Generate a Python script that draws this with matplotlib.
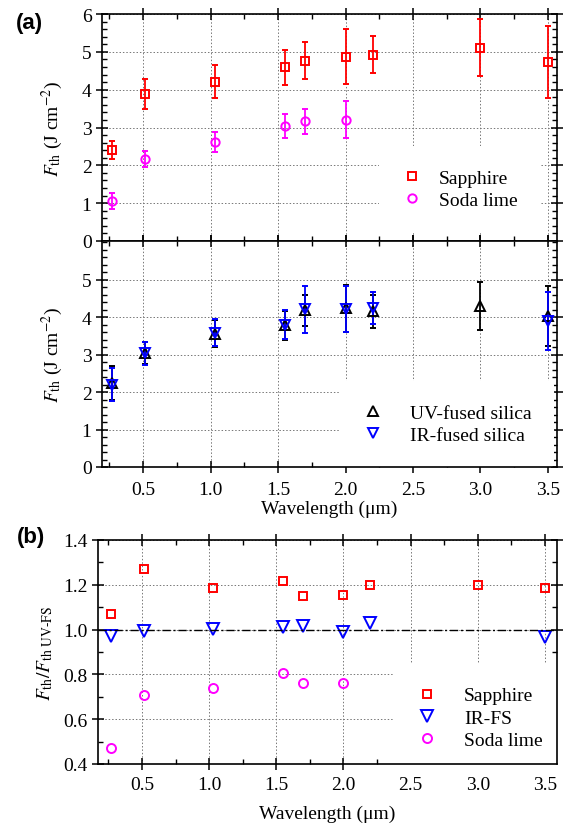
import matplotlib
matplotlib.use("Agg")
import matplotlib.pyplot as plt
from matplotlib.lines import Line2D
from matplotlib.ticker import MultipleLocator, AutoMinorLocator

plt.rcParams['font.family'] = ['Liberation Serif', 'DejaVu Serif']
plt.rcParams['mathtext.fontset'] = 'stix'

# ---------------- data ----------------
wl_sap = [0.27, 0.515, 1.03, 1.55, 1.70, 2.00, 2.20, 3.00, 3.50]
f_sap = [2.40, 3.88, 4.21, 4.59, 4.77, 4.87, 4.92, 5.11, 4.73]
e_sap = [0.24, 0.39, 0.43, 0.46, 0.48, 0.73, 0.49, 0.76, 0.96]

wl_soda = [0.27, 0.515, 1.03, 1.55, 1.70, 2.00]
f_soda = [1.06, 2.16, 2.62, 3.04, 3.16, 3.21]
e_soda = [0.21, 0.21, 0.27, 0.31, 0.32, 0.49]

wl_uv = [0.27, 0.515, 1.03, 1.55, 1.70, 2.00, 2.20, 3.00, 3.50]
f_uv = [2.25, 3.04, 3.56, 3.78, 4.18, 4.23, 4.15, 4.29, 4.02]
e_uv = [0.45, 0.30, 0.36, 0.39, 0.42, 0.63, 0.43, 0.64, 0.80]

wl_ir = [0.27, 0.515, 1.03, 1.55, 1.70, 2.00, 2.20, 3.50]
f_ir = [2.19, 3.03, 3.58, 3.80, 4.21, 4.21, 4.24, 3.89]
e_ir = [0.44, 0.30, 0.36, 0.38, 0.63, 0.62, 0.42, 0.78]

r_sap = [1.069, 1.271, 1.185, 1.219, 1.149, 1.154, 1.197, 1.200, 1.185]
r_ir = [0.973, 0.992, 1.002, 1.010, 1.016, 0.990, 1.031, 0.968]
r_soda = [0.471, 0.707, 0.738, 0.808, 0.761, 0.763]

xticks = [0.5, 1.0, 1.5, 2.0, 2.5, 3.0, 3.5]

RED = '#ff0000'
MAG = '#ff00ff'
BLUE = '#0000ff'
BLK = '#000000'

fig = plt.figure(figsize=(5.69, 8.29), dpi=100)
W, H = 569.0, 829.0

def pos(l, t, r, b):
    return [l / W, 1 - b / H, (r - l) / W, (b - t) / H]

ax1 = fig.add_axes(pos(102, 15, 557, 242))
ax2 = fig.add_axes(pos(102, 242, 557, 468))
ax3 = fig.add_axes(pos(98, 541, 557, 765))

def style(ax, ymajor, yminor_n):
    ax.tick_params(which='both', top=True, right=True, labelsize=14)
    ax.tick_params(which='major', direction='inout', length=8, width=1.1)
    ax.tick_params(which='minor', direction='in', length=3.5, width=1.0)
    ax.xaxis.set_minor_locator(MultipleLocator(0.25))
    ax.yaxis.set_major_locator(MultipleLocator(ymajor))
    ax.yaxis.set_minor_locator(AutoMinorLocator(yminor_n))
    for s in ax.spines.values():
        s.set_linewidth(1.2)
    ax.grid(True, which='major', linestyle=(0, (1.5, 2)), color='#777777',
            linewidth=0.7)
    ax.set_axisbelow(True)

mk = dict(mfc='none', mew=1.4, capsize=2.5, elinewidth=1.3,
          capthick=1.3, linestyle='none')

def legend_at(ax, handles, cx, cy, tp):
    leg = ax.legend(handles=handles, loc='center',
                    bbox_to_anchor=(cx / W, 1 - cy / H),
                    bbox_transform=fig.transFigure, fontsize=14,
                    frameon=True, framealpha=1, edgecolor='none',
                    facecolor='white', handlelength=1.0, handletextpad=tp,
                    borderpad=1.2, labelspacing=0.25)
    leg.set_zorder(2.2)
    return leg

def proxy(marker, color, ms, label):
    return Line2D([], [], marker=marker, color=color, mfc='none', mew=1.4,
                  ms=ms, linestyle='none', label=label)

# ---- panel (a) top ----
ax1.errorbar(wl_sap, f_sap, yerr=e_sap, marker='s', ms=5.5, color=RED, mec=RED, **mk)
ax1.errorbar(wl_soda, f_soda, yerr=e_soda, marker='o', ms=6, color=MAG, mec=MAG, **mk)
ax1.set_xlim(0.195, 3.567)
ax1.set_ylim(0, 6)
ax1.set_xticks(xticks)
ax1.tick_params(labelbottom=False)
style(ax1, 1, 5)
ax1.set_ylabel(r'$F_{\mathrm{th}}$ (J cm$^{-2}$)', fontsize=14, labelpad=12)
legend_at(ax1, [proxy('s', RED, 5.5, 'Sapphire'),
                proxy('o', MAG, 6, 'Soda lime')], 460, 190, 0.9)

# ---- panel (a) bottom ----
ax2.errorbar(wl_uv, f_uv, yerr=e_uv, marker='^', ms=6.5, color=BLK, mec=BLK, **mk)
ax2.errorbar(wl_ir, f_ir, yerr=e_ir, marker='v', ms=6.5, color=BLUE, mec=BLUE, **mk)
ax2.set_xlim(0.195, 3.567)
ax2.set_ylim(0, 6.03)
ax2.set_xticks(xticks)
ax2.set_xticklabels(['%.1f' % v for v in xticks])
style(ax2, 1, 5)
ax2.set_yticks([0, 1, 2, 3, 4, 5])
ax2.set_ylabel(r'$F_{\mathrm{th}}$ (J cm$^{-2}$)', fontsize=14, labelpad=12)
ax2.set_xlabel('Wavelength (μm)', fontsize=14, labelpad=1)
ax2.tick_params(axis='x', pad=6)
legend_at(ax2, [proxy('^', BLK, 6.5, 'UV-fused silica'),
                proxy('v', BLUE, 6.5, 'IR-fused silica')], 447, 425, 1.4)

# ---- panel (b) ----
ax3.plot(wl_sap, r_sap, marker='s', color=RED, mfc='none', mew=1.4, ms=6,
         linestyle='none')
ax3.plot(wl_ir, r_ir, marker='v', color=BLUE, mfc='none', mew=1.4, ms=8,
         linestyle='none')
ax3.plot(wl_soda, r_soda, marker='o', color=MAG, mfc='none', mew=1.4, ms=6.5,
         linestyle='none')
ax3.axhline(1.0, color='black', linestyle=(0, (6, 2, 1.5, 2)), linewidth=1.0)
ax3.set_xlim(0.173, 3.59)
ax3.set_ylim(0.4, 1.4)
ax3.set_xticks(xticks)
ax3.set_xticklabels(['%.1f' % v for v in xticks])
style(ax3, 0.2, 2)
ax3.set_yticks([0.4, 0.6, 0.8, 1.0, 1.2, 1.4])
ax3.set_yticklabels(['%.1f' % v for v in [0.4, 0.6, 0.8, 1.0, 1.2, 1.4]])
ax3.tick_params(axis='x', pad=5)
ax3.set_ylabel(r'$F_{\mathrm{th}}/F_{\mathrm{th\ UV\text{-}FS}}$',
               fontsize=14, labelpad=6)
ax3.set_xlabel('Wavelength (μm)', fontsize=14, labelpad=8)
legend_at(ax3, [proxy('s', RED, 6, 'Sapphire'),
                proxy('v', BLUE, 8, 'IR-FS'),
                proxy('o', MAG, 6.5, 'Soda lime')], 480, 719, 1.4)

fig.text(16 / W, 1 - 23 / H, '(a)', fontsize=16, fontweight='bold',
         family='Liberation Sans', ha='left', va='center')
fig.text(17 / W, 1 - 537 / H, '(b)', fontsize=16, fontweight='bold',
         family='Liberation Sans', ha='left', va='center')

fig.savefig('out.png', dpi=100)
